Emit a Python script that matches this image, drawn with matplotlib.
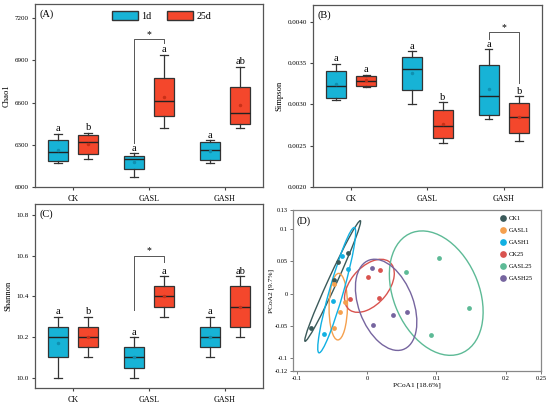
import numpy as np
import matplotlib
matplotlib.use("Agg")
import matplotlib.pyplot as plt
from matplotlib.patches import Ellipse, Patch

plt.rcParams['font.family'] = ['Liberation Serif', 'DejaVu Serif']

groups = ["CK", "GASL", "GASH"]
days = ["1d", "25d"]

# five-number summaries: [whislo, q1, med, q3, whishi]
chao1_1d = [[6171, 6188, 6247, 6333, 6380],
            [6071, 6131, 6197, 6219, 6242],
            [6171, 6190, 6261, 6318, 6333]]
chao1_25d = [[6197, 6233, 6321, 6373, 6385],
             [6416, 6508, 6611, 6772, 6939],
             [6418, 6451, 6527, 6710, 6855]]
chao1_mean_1d = [6262, 6180, 6255]
chao1_mean_25d = [6305, 6642, 6582]

simpson_1d = [[0.003048, 0.00308, 0.003216, 0.00340, 0.003492],
              [0.00300, 0.003172, 0.003428, 0.003576, 0.00364],
              [0.00282, 0.002876, 0.00310, 0.00348, 0.003668]]
simpson_25d = [[0.003208, 0.003216, 0.00328, 0.00334, 0.00336],
               [0.002528, 0.002588, 0.00274, 0.002932, 0.003028],
               [0.00256, 0.002656, 0.002848, 0.00302, 0.00310]]
simpson_mean_1d = [0.00325, 0.00338, 0.00318]
simpson_mean_25d = [0.00329, 0.00276, 0.00285]

shannon_1d = [[10.0, 10.1, 10.2, 10.25, 10.3],
              [10.0, 10.05, 10.1, 10.15, 10.2],
              [10.1, 10.15, 10.2, 10.25, 10.3]]
shannon_25d = [[10.1, 10.15, 10.2, 10.25, 10.3],
               [10.3, 10.35, 10.4, 10.45, 10.5],
               [10.2, 10.25, 10.35, 10.45, 10.5]]
shannon_mean_1d = [10.17, 10.1, 10.2]
shannon_mean_25d = [10.2, 10.4, 10.35]

letters_chao1 = [["a", "a", "a"], ["b", "a", "ab"]]
letters_simpson = [["a", "a", "a"], ["a", "b", "b"]]
letters_shannon = [["a", "a", "a"], ["b", "a", "ab"]]

# PCoA scores
pcoa_labels = ["CK1", "GASL1", "GASH1", "CK25", "GASL25", "GASH25"]
pcoa_x = [[-0.027, -0.042, -0.047, -0.080],
          [-0.047, -0.032, -0.038, -0.047],
          [-0.036, -0.027, -0.048, -0.062],
          [0.0024, 0.0187, -0.024, 0.0177],
          [0.056, 0.1036, 0.147, 0.092],
          [0.0072, 0.0374, 0.058, 0.0082]]
pcoa_y = [[0.063, 0.049, 0.021, -0.054],
          [0.015, -0.0135, -0.028, -0.054],
          [0.058, 0.0385, -0.0115, -0.063],
          [0.0266, 0.037, -0.0078, -0.0068],
          [0.034, 0.055, -0.022, -0.0635],
          [0.0406, -0.0328, -0.029, -0.048]]

c1d = "#17b3d6"
c25d = "#f4472c"
pcoa_colors = ["#3b5a5a", "#f5a04e", "#11b0e2", "#d9534f", "#5dba96", "#76659f"]

fig = plt.figure(figsize=(5.5, 4.07), dpi=100)
axA = fig.add_axes([0.0636, 0.5405, 0.4146, 0.4495])
axB = fig.add_axes([0.569, 0.5405, 0.4165, 0.4472])
axC = fig.add_axes([0.0636, 0.0467, 0.4146, 0.4521])
axD = fig.add_axes([0.5327, 0.0885, 0.4509, 0.3956])


def make_stats(summ, means):
    out = []
    for s, m in zip(summ, means):
        out.append(dict(whislo=s[0], q1=s[1], med=s[2], q3=s[3], whishi=s[4],
                        mean=m, fliers=[]))
    return out


def box_panel(ax, d1, d25, m1, m25, letters, ylim, yticks, fmt, ylabel, tag,
              sig_group, sig_gap):
    x = np.arange(len(groups))
    off = 0.2
    w = 0.26
    rng = ylim[1] - ylim[0]
    for stats, pos, col, mc in [(make_stats(d1, m1), x - off, c1d, "#0f8fb0"),
                                (make_stats(d25, m25), x + off, c25d, "#c93018")]:
        ax.bxp(stats, positions=pos, widths=w, patch_artist=True, showmeans=True,
               showfliers=False, capwidths=0.1,
               boxprops=dict(facecolor=col, edgecolor="#333333", linewidth=0.9),
               medianprops=dict(color="#222222", linewidth=1.0),
               whiskerprops=dict(color="#333333", linewidth=0.9),
               capprops=dict(color="#333333", linewidth=0.9),
               meanprops=dict(marker="o", markersize=1.5, markerfacecolor=mc,
                              markeredgecolor=mc))
    for j, (summ, pos) in enumerate([(d1, x - off), (d25, x + off)]):
        for i in range(len(groups)):
            ax.annotate(letters[j][i], (pos[i], summ[i][4]), xytext=(0, 0.3),
                        textcoords="offset points", ha="center", va="bottom",
                        fontsize=7.5)
    # significance bracket
    g = sig_group
    lo1 = d1[g][4] + sig_gap[0] * rng
    lo2 = d25[g][4] + sig_gap[1] * rng
    top = max(d1[g][4], d25[g][4]) + sig_gap[2] * rng
    ax.plot([g - off, g - off, g + off, g + off], [lo1, top, top, lo2],
            color="#555555", linewidth=0.7)
    ax.text(g, top + 0.003 * rng, "*", ha="center", va="bottom", fontsize=7)

    ax.set_xlim(-0.5, 2.5)
    ax.set_ylim(*ylim)
    ax.set_xticks(x)
    ax.set_xticklabels(groups, fontsize=5.8)
    ax.set_yticks(yticks)
    ax.set_yticklabels([fmt.format(v) for v in yticks], fontsize=5.0)
    ax.set_ylabel(ylabel, fontsize=6.2, labelpad=3)
    ax.tick_params(length=2.5, width=0.8, pad=2, color="#444444")
    ax.tick_params(axis="x", pad=3)
    for sp in ax.spines.values():
        sp.set_color("#555555")
        sp.set_linewidth(0.9)
    ax.text(0.02, 0.945, tag, transform=ax.transAxes, fontsize=7.5, va="center")


box_panel(axA, chao1_1d, chao1_25d, chao1_mean_1d, chao1_mean_25d, letters_chao1,
          (6000, 7300), np.arange(6000, 7201, 300), "{:.0f}", "Chao1", "(A)",
          1, (0.052, 0.065, 0.085))
box_panel(axB, simpson_1d, simpson_25d, simpson_mean_1d, simpson_mean_25d,
          letters_simpson, (0.0020, 0.0042), np.arange(0.0020, 0.00401, 0.0005),
          "{:.4f}", "Simpson", "(B)", 2, (0.055, 0.07, 0.091))
box_panel(axC, shannon_1d, shannon_25d, shannon_mean_1d, shannon_mean_25d,
          letters_shannon, (9.95, 10.855), np.arange(10.0, 10.81, 0.2),
          "{:.1f}", "Shannon", "(C)", 1, (0.15, 0.075, 0.11))

axA.legend(handles=[Patch(facecolor=c1d, edgecolor="#333333", label="1d"),
                    Patch(facecolor=c25d, edgecolor="#333333", label="25d")],
           loc="upper center", ncol=2, frameon=False, fontsize=7.2,
           bbox_to_anchor=(0.555, 1.0), handlelength=2.6, handleheight=1.1,
           columnspacing=1.6, handletextpad=0.3, borderaxespad=0.25)

# PCoA panel
k = np.sqrt(-2 * np.log(0.2))
for lab, xs, ys, col in zip(pcoa_labels, pcoa_x, pcoa_y, pcoa_colors):
    xs = np.array(xs)
    ys = np.array(ys)
    axD.scatter(xs, ys, s=12, color=col, label=lab, zorder=3, linewidths=0)
    cov = np.cov(xs, ys)
    vals, vecs = np.linalg.eigh(cov)
    order = vals.argsort()[::-1]
    vals = vals[order]
    vecs = vecs[:, order]
    ang = np.degrees(np.arctan2(vecs[1, 0], vecs[0, 0]))
    e = Ellipse((xs.mean(), ys.mean()), 2 * k * np.sqrt(vals[0]),
                2 * k * np.sqrt(vals[1]), angle=ang, facecolor="none",
                edgecolor=col, linewidth=1.0, zorder=2)
    axD.add_patch(e)

axD.set_xlim(-0.106, 0.25)
axD.set_ylim(-0.12, 0.13)
axD.set_xticks([-0.1, 0, 0.1, 0.2, 0.25])
axD.set_xticklabels(["-0.1", "0", "0.1", "0.2", "0.25"])
axD.set_yticks([-0.12, -0.1, -0.05, 0, 0.05, 0.1, 0.13])
axD.set_yticklabels(["-0.12", "-0.1", "-0.05", "0", "0.05", "0.1", "0.13"])
axD.set_xlabel("PCoA1 [18.6%]", fontsize=5.3, labelpad=1)
axD.set_ylabel("PCoA2 [9.7%]", fontsize=5.3, labelpad=1)
axD.tick_params(labelsize=4.6, length=2, width=0.7, pad=1.5, color="#777777")
for sp in axD.spines.values():
    sp.set_color("#888888")
    sp.set_linewidth(0.9)
axD.text(0.016, 0.93, "(D)", transform=axD.transAxes, fontsize=7.5, va="center")
axD.legend(loc="upper left", bbox_to_anchor=(0.82, 0.985), frameon=False,
           fontsize=4.7, markerscale=1.4, handletextpad=0.3, labelspacing=1.0,
           borderaxespad=0.0, handlelength=1.2)

fig.savefig("out.png", dpi=100)
